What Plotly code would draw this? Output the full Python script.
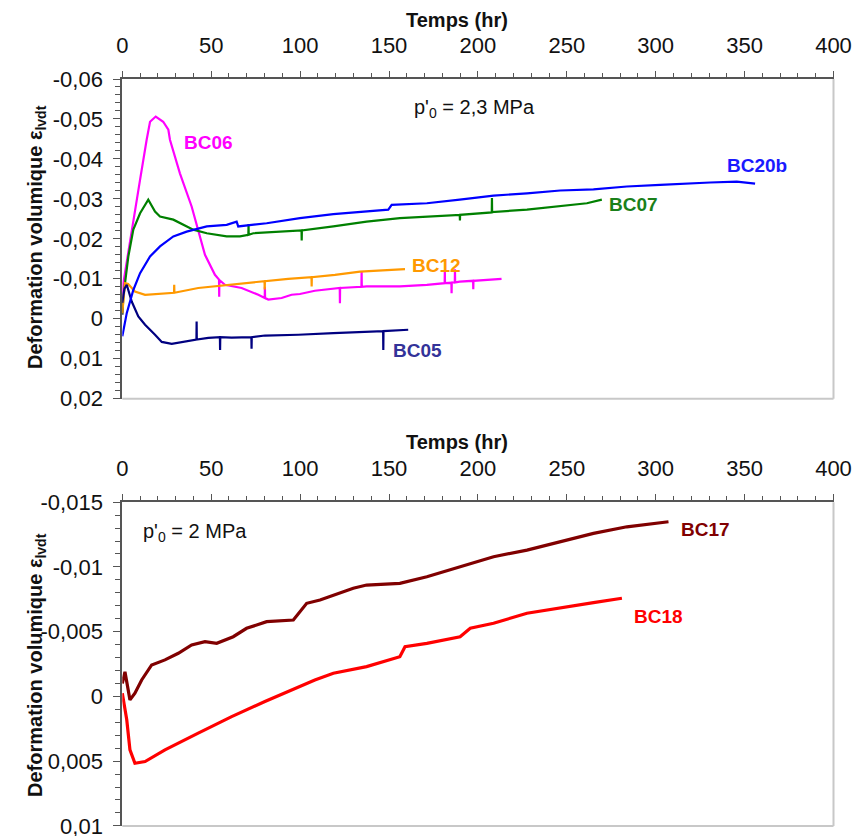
import plotly.graph_objects as go

W, H = 854, 836

# ---------------- data ----------------
# Top panel: p'0 = 2,3 MPa
bc06_t = [0, 0.6, 3.5, 6.2, 10, 13.7, 15.6, 18.8, 23, 25.9, 26.8, 32.4, 39, 46.5, 52.1, 54.4, 54.5, 54.6,
          57.7, 67.1, 76.5, 80.1, 80.2, 80.3, 82.1, 89.6, 95.2, 99.9, 108.3, 119.6, 122.3, 122.4, 122.5,
          134.5, 134.6, 134.7, 137.4, 156.1, 171.3, 181.3, 181.4, 181.5, 185.1, 185.2, 185.3,
          187.0, 187.1, 187.2, 189.8, 197.3, 197.4, 197.5, 213.3]
bc06_e = [-0.001, -0.0089, -0.017, -0.024, -0.0348, -0.0448, -0.0493, -0.0506, -0.0493, -0.0473, -0.0448,
          -0.0364, -0.0281, -0.016, -0.011, -0.0098, -0.0055, -0.0097,
          -0.0085, -0.0077, -0.006, -0.0052, -0.0080, -0.0052, -0.0048, -0.0052, -0.006, -0.0062, -0.007,
          -0.0077, -0.0077, -0.0039, -0.0077,
          -0.0080, -0.0118, -0.0080, -0.0081, -0.0081, -0.0085, -0.0089, -0.0118, -0.0089, -0.009, -0.0064,
          -0.009, -0.0091, -0.0124, -0.0091, -0.0093, -0.0095, -0.0074, -0.0095, -0.0100]

bc07_t = [0, 0.6, 3.4, 6.2, 10, 14.6, 18.4, 21.2, 28.7, 34.3, 39.9, 47.5, 58.7, 66.2, 70.9, 71.0, 71.1,
          73.7, 90.5, 100.8, 100.9, 101.0, 118.7, 137.4, 156.1, 171.3, 189.8, 189.9, 190.0,
          207.8, 207.9, 208.0, 227.6, 246.3, 261.3, 269.7]
bc07_e = [-0.001, -0.0056, -0.0156, -0.0223, -0.0264, -0.0298, -0.0268, -0.0256, -0.0248, -0.0235,
          -0.0223, -0.0214, -0.0206, -0.0206, -0.0210, -0.0237, -0.0210,
          -0.0214, -0.0218, -0.0221, -0.0196, -0.0221, -0.0231, -0.0243, -0.0252, -0.0256, -0.026,
          -0.0246, -0.026, -0.0266, -0.0302, -0.0267, -0.0273, -0.0281, -0.0289, -0.0298]

bc20b_t = [0, 2.5, 6.2, 10, 15.6, 21.2, 28.7, 36.2, 47.5, 58.7, 64.3, 65.2, 81.2, 99.9, 118.7, 137.4,
           149.6, 151.5, 171.3, 189.8, 208.8, 227.6, 246.3, 265, 283.8, 302.5, 317.5, 330.6, 345.6, 355.9]
bc20b_e = [0.0044, -0.0014, -0.0072, -0.0114, -0.0156, -0.0181, -0.0206, -0.0218, -0.0231, -0.0235,
           -0.0243, -0.0231, -0.0239, -0.0252, -0.0262, -0.0268, -0.0273, -0.0285, -0.0289, -0.0298,
           -0.0308, -0.0314, -0.0321, -0.0324, -0.0331, -0.0335, -0.0339, -0.0341, -0.0343, -0.0338]

bc12_t = [0, 1.5, 3.3, 7.1, 12.8, 24, 29.1, 29.2, 29.3, 42.7, 61.5, 78.4, 80.0, 80.1, 80.2, 93.3,
          106.4, 106.5, 106.6, 119.6, 133.7, 159]
bc12_e = [-0.0014, -0.0089, -0.0087, -0.0068, -0.006, -0.0064, -0.0065, -0.0085, -0.0065, -0.0077,
          -0.0085, -0.0093, -0.0094, -0.0073, -0.0094, -0.0100, -0.0104, -0.0081, -0.0104, -0.011,
          -0.0118, -0.0124]

bc05_t = [0, 1.2, 2.5, 5.3, 9, 12.8, 18.4, 22.2, 27.8, 33.4, 41.7, 41.8, 41.9, 48.4, 54.9, 55.0, 55.1,
          61.5, 72.6, 72.7, 72.8, 80.2, 99, 118.7, 137.4, 146.7, 146.8, 146.9, 160.8]
bc05_e = [-0.004, -0.0075, -0.0085, -0.0043, -0.0006, 0.0015, 0.004, 0.0058, 0.0063, 0.0058, 0.0052,
          0.0007, 0.0052, 0.0048, 0.0046, 0.0078, 0.0046, 0.0047, 0.0046, 0.0075, 0.0046, 0.0042,
          0.004, 0.0036, 0.0033, 0.0031, 0.0078, 0.0031, 0.00275]

# Bottom panel: p'0 = 2 MPa
bc17_t = [0, 1.5, 4.3, 7.1, 10.9, 16.5, 24, 31.5, 39, 46.5, 53.1, 62.4, 69.9, 81.2, 96.2, 99, 103.7,
          111.2, 118.7, 129.9, 137.4, 156.1, 171.3, 190, 208.8, 227.6, 246.3, 265, 283.8, 307.2]
bc17_e = [-0.001, -0.0019, 0.00027, -0.00025, -0.00127, -0.00243, -0.00282, -0.00333, -0.00397,
          -0.00423, -0.0041, -0.00461, -0.00526, -0.00577, -0.0059, -0.00642, -0.00719, -0.00745,
          -0.00783, -0.00835, -0.0086, -0.00873, -0.00924, -0.01002, -0.01079, -0.0113, -0.01194,
          -0.01259, -0.0131, -0.01349]

bc18_t = [0, 2.5, 4.3, 7.1, 12.8, 24, 42.7, 61.5, 80.2, 95.2, 108.3, 118.7, 137.4, 156.1, 159,
          171.3, 190, 195.7, 208.8, 227.6, 246.3, 265, 281]
bc18_e = [-0.00025, 0.0018, 0.00413, 0.00516, 0.00503, 0.00413, 0.00284, 0.00156, 0.0004, -0.0005,
          -0.00127, -0.00179, -0.0023, -0.00307, -0.00384, -0.0041, -0.00461, -0.00526, -0.00565,
          -0.00642, -0.0068, -0.00724, -0.00758]

x_ticks = [0, 50, 100, 150, 200, 250, 300, 350, 400]
y1_ticks = [-0.06, -0.05, -0.04, -0.03, -0.02, -0.01, 0, 0.01, 0.02]
y1_text = ["-0,06", "-0,05", "-0,04", "-0,03", "-0,02", "-0,01", "0", "0,01", "0,02"]
y2_ticks = [-0.015, -0.01, -0.005, 0, 0.005, 0.01]
y2_text = ["-0,015", "-0,01", "-0,005", "0", "0,005", "0,01"]

# ---------------- figure ----------------
FONT = "Liberation Sans, Arial, sans-serif"
AX = "#555555"
BORDER = "#c8c8c8"


def px_x(p):
    return p / W


def px_y(p):
    return 1 - p / H


fig = go.Figure()

top_series = [
    ("BC06", bc06_t, bc06_e, "#ff00ff"),
    ("BC07", bc07_t, bc07_e, "#008000"),
    ("BC12", bc12_t, bc12_e, "#ff9900"),
    ("BC05", bc05_t, bc05_e, "#000080"),
    ("BC20b", bc20b_t, bc20b_e, "#0000ff"),
]
for name, t, e, c in top_series:
    fig.add_trace(go.Scatter(x=t, y=e, mode="lines", name=name, xaxis="x", yaxis="y",
                             line=dict(color=c, width=2.2), showlegend=False))

for name, t, e, c in [("BC17", bc17_t, bc17_e, "#800000"), ("BC18", bc18_t, bc18_e, "#ff0000")]:
    fig.add_trace(go.Scatter(x=t, y=e, mode="lines", name=name, xaxis="x2", yaxis="y2",
                             line=dict(color=c, width=3.2), showlegend=False))

xdom = [px_x(122.3), px_x(833.5)]
y1dom = [px_y(398.7), px_y(79)]
y2dom = [px_y(826), px_y(502.2)]

xcommon = dict(range=[0, 400], side="top", tickmode="array", tickvals=x_ticks, automargin=False,
               ticks="outside", ticklen=6, tickwidth=1, tickcolor=AX, ticklabeloverflow="allow",
               showline=True, linecolor=AX, linewidth=2, showgrid=False, zeroline=False,
               tickfont=dict(family=FONT, size=22, color="#111"),
               minor=dict(tickmode="linear", dtick=10, tick0=0, ticks="outside", ticklen=4,
                          tickcolor=AX, showgrid=False),
               ticklabelstandoff=9)
ycommon = dict(ticks="outside", ticklen=7, tickwidth=1, tickcolor=AX, tickmode="array", automargin=False,
               ticklabeloverflow="allow",
               showline=True, linecolor=AX, linewidth=2, showgrid=False, zeroline=False,
               tickfont=dict(family=FONT, size=22, color="#111"), ticklabelstandoff=6)

fig.update_layout(
    width=W, height=H, margin=dict(l=0, r=0, t=0, b=0),
    paper_bgcolor="white", plot_bgcolor="white",
    xaxis=dict(domain=xdom, anchor="y", **xcommon),
    xaxis2=dict(domain=xdom, anchor="y2", **xcommon),
    yaxis=dict(domain=y1dom, anchor="x", range=[0.02001, -0.06], tickvals=y1_ticks, ticktext=y1_text,
               minor=dict(tickmode="linear", tick0=0, dtick=0.002, ticks="outside", ticklen=5,
                          tickcolor=AX, showgrid=False), **ycommon),
    yaxis2=dict(domain=y2dom, anchor="x2", range=[0.01001, -0.015], tickvals=y2_ticks, ticktext=y2_text,
                minor=dict(tickmode="linear", tick0=0, dtick=0.001, ticks="outside", ticklen=5,
                           tickcolor=AX, showgrid=False), **ycommon),
    showlegend=False,
)

# right & bottom light-grey frame lines
for xr, yr in [("x domain", "y domain"), ("x2 domain", "y2 domain")]:
    fig.add_shape(type="line", xref=xr, yref=yr, x0=1, x1=1, y0=0, y1=1,
                  line=dict(color=BORDER, width=2))
    fig.add_shape(type="line", xref=xr, yref=yr, x0=0, x1=1, y0=0, y1=0,
                  line=dict(color=BORDER, width=2))

anns = []


def txt(text, x, y, size, color="#111", bold=False, angle=0):
    anns.append(dict(text=f"<b>{text}</b>" if bold else text, x=px_x(x), y=px_y(y),
                     xref="paper", yref="paper", showarrow=False, textangle=angle,
                     xanchor="center", yanchor="middle",
                     font=dict(family=FONT, size=size, color=color)))


txt("Temps (hr)", 457, 20, 20, bold=True)
txt("Temps (hr)", 457, 442, 20, bold=True)
txt("Deformation volumique ε<sub>lvdt</sub>", 36, 237, 20, bold=True, angle=-90)
txt("Deformation volumique ε<sub>lvdt</sub>", 36, 665, 20, bold=True, angle=-90)
txt("p'<sub>0</sub> = 2,3 MPa", 475, 108, 20)
txt("p'<sub>0</sub> = 2 MPa", 195, 532, 20)

txt("BC06", 208, 143, 19, "#ff00ff", True)
txt("BC20b", 757, 165, 19, "#1a1aff", True)
txt("BC07", 633, 205, 19, "#1a801a", True)
txt("BC12", 436, 266, 19, "#ff9900", True)
txt("BC05", 417, 351, 19, "#333399", True)
txt("BC17", 705, 529, 19, "#800000", True)
txt("BC18", 658, 616, 19, "#ff0000", True)

fig.update_layout(annotations=anns)
fig.write_html("out.html")
